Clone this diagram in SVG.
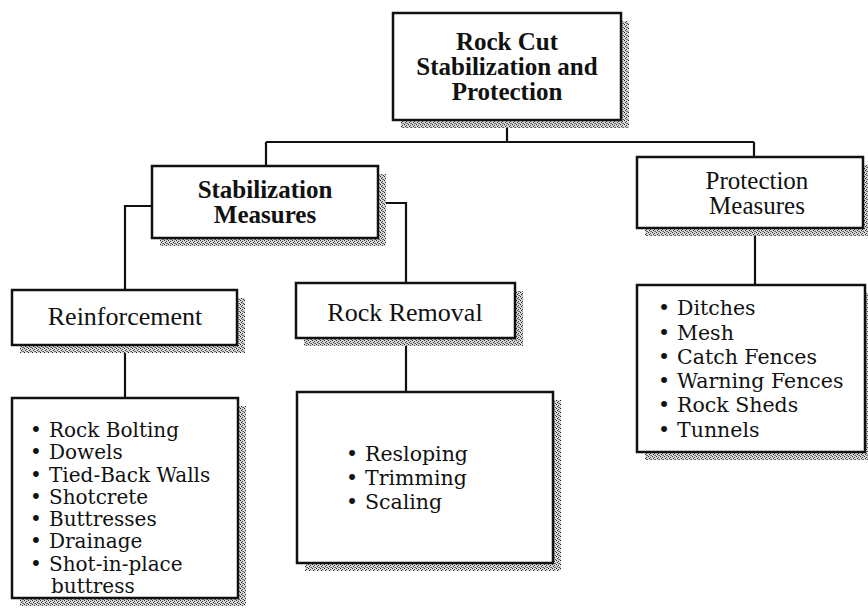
<svg xmlns="http://www.w3.org/2000/svg" width="868" height="613" viewBox="0 0 868 613">
<defs>
<pattern id="stip" width="4" height="4" patternUnits="userSpaceOnUse">
<rect width="4" height="4" fill="#d8d8d8"/>
<rect x="0" y="0" width="1" height="1" fill="#222"/>
<rect x="2" y="1" width="1" height="1" fill="#444"/>
<rect x="1" y="2" width="1" height="1" fill="#333"/>
<rect x="3" y="3" width="1" height="1" fill="#555"/>
<rect x="2" y="3" width="1" height="1" fill="#888"/>
</pattern>
</defs>
<style>
.shadow{fill:url(#stip)}
.box{fill:#fff;stroke:#111;stroke-width:2.5}
.conn{fill:none;stroke:#111;stroke-width:2.2}
text{font-family:"Liberation Serif","Times New Roman",serif;fill:#111}
.t{font-size:25px;text-anchor:middle}
.b{font-weight:bold}
.li{font-family:"DejaVu Serif","Liberation Serif",serif;font-size:20.5px}
.lr{font-family:"DejaVu Serif","Liberation Serif",serif;font-size:20px}
</style>
<rect width="868" height="613" fill="#fff"/>
<g id="connectors">
<path class="conn" d="M507,120 V142 M266,142 H754 M266,142 V166 M754,142 V157"/>
<path class="conn" d="M152,206 H125 V290 M378,203 H406 V283"/>
<path class="conn" d="M125,345 V398 M406,338 V392 M755,228 V285"/>
</g>
<g id="root">
<rect class="shadow" x="401" y="21" width="228" height="107"/>
<rect class="box" x="393" y="13" width="228" height="107"/>
<text class="t b" x="507" y="50">Rock Cut</text>
<text class="t b" x="507" y="75">Stabilization and</text>
<text class="t b" x="507" y="100">Protection</text>
</g>
<g id="stabilization">
<rect class="shadow" x="160" y="174" width="226" height="72"/>
<rect class="box" x="152" y="166" width="226" height="72"/>
<text class="t b" x="265" y="198">Stabilization</text>
<text class="t b" x="265" y="223">Measures</text>
</g>
<g id="protection">
<rect class="shadow" x="645" y="165" width="226" height="71"/>
<rect class="box" x="637" y="157" width="226" height="71"/>
<text class="t" x="757" y="189">Protection</text>
<text class="t" x="757" y="214">Measures</text>
</g>
<g id="reinforcement">
<rect class="shadow" x="20" y="298" width="225" height="55"/>
<rect class="box" x="12" y="290" width="225" height="55"/>
<text class="t" x="125" y="325" style="font-size:26px">Reinforcement</text>
</g>
<g id="rockremoval">
<rect class="shadow" x="304" y="291" width="219" height="55"/>
<rect class="box" x="296" y="283" width="219" height="55"/>
<text class="t" x="405" y="321" style="font-size:26px">Rock Removal</text>
</g>
<g id="reinforcement-list">
<rect class="shadow" x="20" y="406" width="226" height="200"/>
<rect class="box" x="12" y="398" width="226" height="200"/>
<text class="lr" x="30" y="437">•<tspan x="49">Rock Bolting</tspan></text>
<text class="lr" x="30" y="459">•<tspan x="49">Dowels</tspan></text>
<text class="lr" x="30" y="482">•<tspan x="49">Tied-Back Walls</tspan></text>
<text class="lr" x="30" y="504">•<tspan x="49">Shotcrete</tspan></text>
<text class="lr" x="30" y="526">•<tspan x="49">Buttresses</tspan></text>
<text class="lr" x="30" y="548">•<tspan x="49">Drainage</tspan></text>
<text class="lr" x="30" y="571">•<tspan x="49">Shot-in-place</tspan></text>
<text class="lr" x="51" y="593">buttress</text>
</g>
<g id="rockremoval-list">
<rect class="shadow" x="305" y="400" width="256" height="171"/>
<rect class="box" x="297" y="392" width="256" height="171"/>
<text class="li" x="346" y="461">•<tspan x="365">Resloping</tspan></text>
<text class="li" x="346" y="485">•<tspan x="365">Trimming</tspan></text>
<text class="li" x="346" y="509">•<tspan x="365">Scaling</tspan></text>
</g>
<g id="protection-list">
<rect class="shadow" x="645" y="293" width="228" height="167"/>
<rect class="box" x="637" y="285" width="228" height="167"/>
<text class="li" x="658" y="315">•<tspan x="677">Ditches</tspan></text>
<text class="li" x="658" y="340">•<tspan x="677">Mesh</tspan></text>
<text class="li" x="658" y="364">•<tspan x="677">Catch Fences</tspan></text>
<text class="li" x="658" y="388">•<tspan x="677">Warning Fences</tspan></text>
<text class="li" x="658" y="412">•<tspan x="677">Rock Sheds</tspan></text>
<text class="li" x="658" y="437">•<tspan x="677">Tunnels</tspan></text>
</g>
</svg>
